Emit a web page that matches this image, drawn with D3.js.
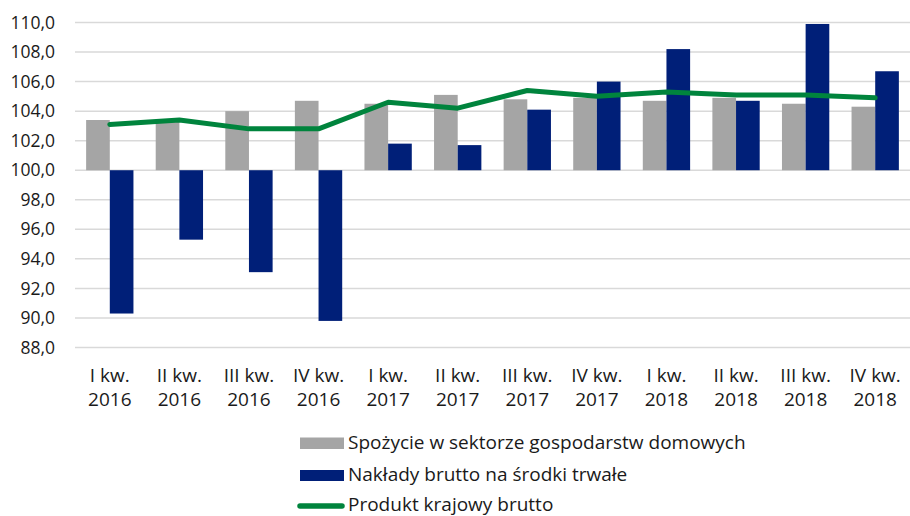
<!DOCTYPE html>
<html>
<head>
<meta charset="utf-8">
<script src="https://cdn.jsdelivr.net/npm/d3@7"></script>
<style>
  body { margin: 0; background: #fff; }
  svg text { font-family: "Open Sans", Roboto, sans-serif; fill: #1a1a1a; }
</style>
</head>
<body>
<script>
'use strict'
// quarters
const quarters = ["I kw.", "II kw.", "III kw.", "IV kw.", "I kw.", "II kw.", "III kw.", "IV kw.", "I kw.", "II kw.", "III kw.", "IV kw."];
const years = ["2016", "2016", "2016", "2016", "2017", "2017", "2017", "2017", "2018", "2018", "2018", "2018"];

// series (index, same quarter of previous year = 100)
const consumption = [103.4, 103.3, 104.0, 104.7, 104.5, 105.1, 104.8, 104.9, 104.7, 104.9, 104.5, 104.3];
const investment = [90.3, 95.3, 93.1, 89.8, 101.8, 101.7, 104.1, 106.0, 108.2, 104.7, 109.9, 106.7];
const gdp = [103.1, 103.4, 102.8, 102.8, 104.6, 104.2, 105.4, 105.0, 105.3, 105.1, 105.1, 104.9];

const yTicks = [88, 90, 92, 94, 96, 98, 100, 102, 104, 106, 108, 110];
const seriesNames = ["Spożycie w sektorze gospodarstw domowych", "Nakłady brutto na środki trwałe", "Produkt krajowy brutto"];

const w = 910;
const h = 516;
const plotLeft = 75;
const plotRight = 910;
const plotTop = 22.5;
const plotBottom = 347.5;

const colGray = "#a5a5a5";
const colNavy = "#001f78";
const colGreen = "#00843d";

const idx = d3.range(quarters.length);

const x0 = d3.scaleBand()
	.domain(idx)
	.range([plotLeft, plotRight])
	.paddingInner(0.32)
	.paddingOuter(0.16);

const x1 = d3.scaleBand()
	.domain(["c", "i"])
	.range([0, x0.bandwidth()]);

const y = d3.scaleLinear()
	.domain([88, 110])
	.range([plotBottom, plotTop]);

const fmt = (v) => d3.format(".1f")(v).replace(".", ",");

const svg = d3.select("body")
	.append("svg")
	.attr("width", w)
	.attr("height", h);

// gridlines
svg.append("g")
	.selectAll("line")
	.data(yTicks)
	.enter()
	.append("line")
	.attr("x1", plotLeft)
	.attr("x2", plotRight)
	.attr("y1", (d) => y(d))
	.attr("y2", (d) => y(d))
	.attr("stroke", "#d9d9d9")
	.attr("stroke-width", 1.5);

// y axis labels
const yAxis = d3.axisLeft(y)
	.tickValues(yTicks)
	.tickFormat(fmt)
	.tickSize(0)
	.tickPadding(0);

const gy = svg.append("g")
	.attr("transform", "translate(" + 55 + ",0)")
	.call(yAxis);
gy.select(".domain").remove();
gy.selectAll("text")
	.attr("font-size", 17.5)
	.attr("fill", "#1a1a1a")
	.style("font-family", "'Open Sans', sans-serif");

// bars
const groups = svg.append("g")
	.selectAll("g")
	.data(idx)
	.enter()
	.append("g")
	.attr("transform", (i) => "translate(" + x0(i) + ",0)");

groups.append("rect")
	.attr("x", x1("c"))
	.attr("width", x1.bandwidth())
	.attr("y", (i) => y(Math.max(100, consumption[i])))
	.attr("height", (i) => Math.abs(y(consumption[i]) - y(100)))
	.attr("fill", colGray);

groups.append("rect")
	.attr("x", x1("i"))
	.attr("width", x1.bandwidth())
	.attr("y", (i) => y(Math.max(100, investment[i])))
	.attr("height", (i) => Math.abs(y(investment[i]) - y(100)))
	.attr("fill", colNavy);

// gdp line
const line = d3.line()
	.x((d, i) => x0(i) + x0.bandwidth() / 2)
	.y((d) => y(d));

svg.append("path")
	.datum(gdp)
	.attr("d", line)
	.attr("fill", "none")
	.attr("stroke", colGreen)
	.attr("stroke-width", 5)
	.attr("stroke-linejoin", "round")
	.attr("stroke-linecap", "round");

// x labels (two lines)
const xl = svg.append("g")
	.selectAll("text")
	.data(idx)
	.enter()
	.append("text")
	.attr("text-anchor", "middle")
	.attr("font-size", 19)
	.attr("x", (i) => x0(i) + x0.bandwidth() / 2);
xl.append("tspan")
	.attr("x", (i) => x0(i) + x0.bandwidth() / 2)
	.attr("y", 382)
	.text((i) => quarters[i]);
xl.append("tspan")
	.attr("x", (i) => x0(i) + x0.bandwidth() / 2)
	.attr("y", 406)
	.text((i) => years[i]);

// legend
const legend = svg.append("g").attr("transform", "translate(300,0)");
const legBase = [449, 480.5, 511];

legend.append("rect")
	.attr("x", 0).attr("y", 437.5)
	.attr("width", 44).attr("height", 11.5)
	.attr("fill", colGray);
legend.append("rect")
	.attr("x", 0).attr("y", 470)
	.attr("width", 44).attr("height", 11)
	.attr("fill", colNavy);
legend.append("line")
	.attr("x1", 0).attr("x2", 42)
	.attr("y1", 506).attr("y2", 506)
	.attr("stroke", colGreen)
	.attr("stroke-width", 5.5)
	.attr("stroke-linecap", "round");

legend.selectAll("text.leg")
	.data(seriesNames)
	.enter()
	.append("text")
	.attr("class", "leg")
	.attr("x", 48)
	.attr("y", (d, i) => legBase[i])
	.attr("font-size", 19)
	.text((d) => d);
</script>
</body>
</html>
